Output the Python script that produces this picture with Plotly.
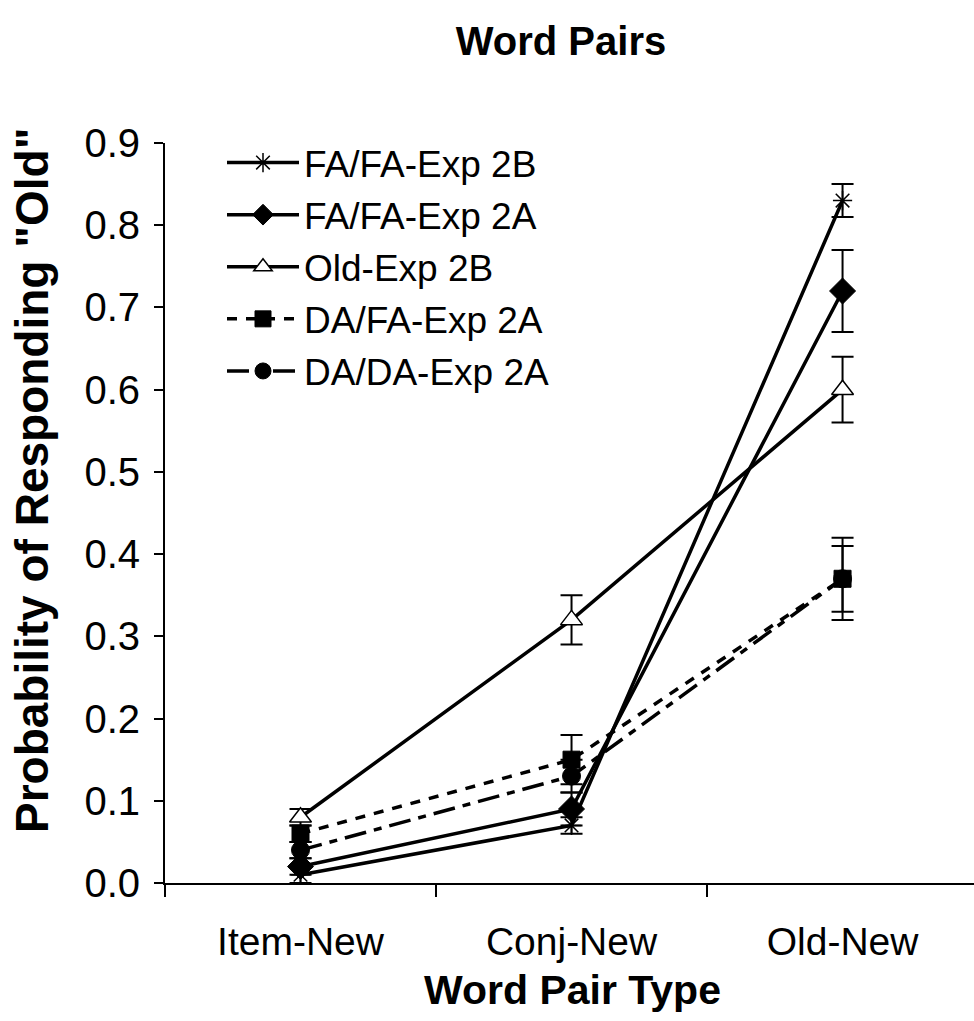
import plotly.graph_objects as go

categories = ["Item-New", "Conj-New", "Old-New"]

series_names = ["FA/FA-Exp 2B", "FA/FA-Exp 2A", "Old-Exp 2B", "DA/FA-Exp 2A", "DA/DA-Exp 2A"]
fafa_2b = [0.01, 0.07, 0.83]
fafa_2a = [0.02, 0.09, 0.72]
old_2b = [0.08, 0.32, 0.60]
dafa_2a = [0.06, 0.15, 0.37]
dada_2a = [0.04, 0.13, 0.37]

fafa_2b_err = [0.01, 0.01, 0.02]
fafa_2a_err = [0.01, 0.02, 0.05]
old_2b_err = [0.01, 0.03, 0.04]
dafa_2a_err = [0.01, 0.03, 0.05]
dada_2a_err = [0.01, 0.02, 0.04]

y_ticks = [0.0, 0.1, 0.2, 0.3, 0.4, 0.5, 0.6, 0.7, 0.8, 0.9]

FONT = "Liberation Sans, Arial, sans-serif"
W, H = 974, 1021
ML, MR, MT, MB = 165, 0, 143, 138
PW = W - ML - MR
PH = H - MT - MB

styles = [
    dict(values=fafa_2b, err=fafa_2b_err, dash="solid",
         marker=dict(symbol="asterisk-open", size=16, color="black",
                     line=dict(color="black", width=1.5))),
    dict(values=fafa_2a, err=fafa_2a_err, dash="solid",
         marker=dict(symbol="diamond", size=20, color="black",
                     line=dict(color="black", width=1))),
    dict(values=old_2b, err=old_2b_err, dash="solid",
         marker=dict(symbol="triangle-up", size=19, color="white",
                     line=dict(color="black", width=1.5))),
    dict(values=dafa_2a, err=dafa_2a_err, dash="10px,9px",
         marker=dict(symbol="square", size=17, color="black",
                     line=dict(color="black", width=1))),
    dict(values=dada_2a, err=dada_2a_err, dash="22px,8px,8px,8px",
         marker=dict(symbol="circle", size=18, color="black",
                     line=dict(color="black", width=1))),
]

fig = go.Figure()
for i, (name, st) in enumerate(zip(series_names, styles)):
    fig.add_trace(go.Scatter(
        x=categories,
        y=st["values"],
        name=name,
        mode="lines+markers",
        line=dict(color="black", width=3.5, dash=st["dash"]),
        marker=st["marker"],
        error_y=dict(type="data", array=st["err"], visible=True,
                     color="black", thickness=2, width=11),
        legendgroup=f"g{i}",
    ))

fig.update_layout(
    width=W,
    height=H,
    margin=dict(l=ML, r=MR, t=MT, b=MB),
    paper_bgcolor="white",
    plot_bgcolor="white",
    font=dict(family=FONT, color="black", size=24),
    title=dict(text="<b>Word Pairs</b>", x=561 / W, xref="container",
               xanchor="center", y=1 - 41 / H, yref="container",
               yanchor="middle", font=dict(size=40, family=FONT)),
    showlegend=True,
    legend=dict(x=(222 - ML) / PW, y=(H - MB - 132) / PH,
                xanchor="left", yanchor="top",
                bgcolor="rgba(0,0,0,0)", font=dict(size=37, family=FONT),
                tracegroupgap=1, traceorder="grouped", itemwidth=72),
    annotations=[
        dict(text="<b>Word Pair Type</b>", xref="paper", yref="paper",
             x=(572 - ML) / PW, y=-(990 - (H - MB)) / PH,
             xanchor="center", yanchor="middle", showarrow=False,
             font=dict(size=41, family=FONT, color="black")),
        dict(text='<b>Probability of Responding "Old"</b>', xref="paper",
             yref="paper", x=(32 - ML) / PW, y=((H - MB) - 480) / PH,
             xanchor="center", yanchor="middle", showarrow=False,
             textangle=-90,
             font=dict(size=46, family=FONT, color="black")),
    ],
)

fig.update_xaxes(
    type="category",
    categoryorder="array",
    categoryarray=categories,
    range=[-0.5, 2.485],
    showline=True, linecolor="black", linewidth=2,
    ticks="outside", tickson="boundaries", ticklen=12, tickwidth=1.5,
    tickcolor="black",
    showgrid=False, zeroline=False,
    tickfont=dict(size=39, family=FONT),
    ticklabelstandoff=23,
)

fig.update_yaxes(
    range=[0, 0.9],
    tickvals=y_ticks,
    tickformat=".1f",
    showline=True, linecolor="black", linewidth=2,
    ticks="outside", ticklen=9, tickwidth=1.5, tickcolor="black",
    showgrid=False, zeroline=False,
    tickfont=dict(size=40, family=FONT),
    ticklabelstandoff=6,
)

fig.write_html("out.html")
